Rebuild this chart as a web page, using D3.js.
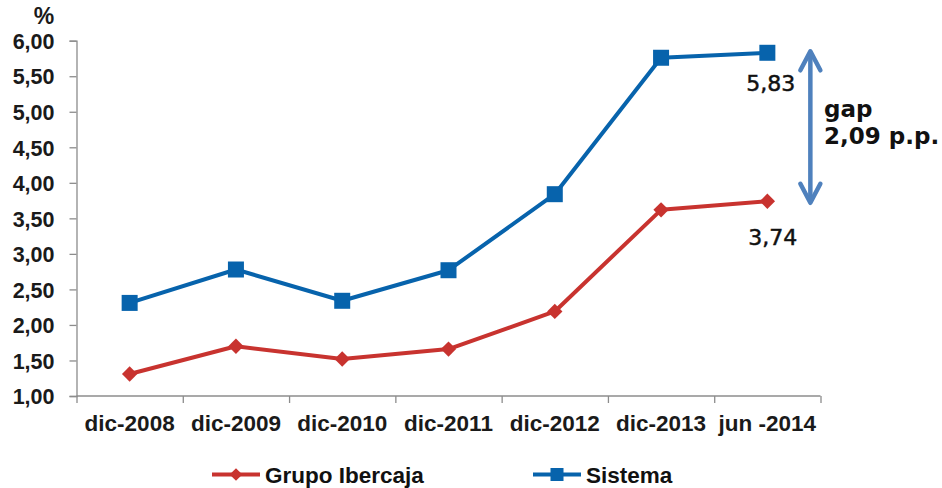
<!DOCTYPE html>
<html>
<head>
<meta charset="utf-8">
<script src="https://cdn.jsdelivr.net/npm/d3@7"></script>
<style>
  html, body { margin: 0; padding: 0; background: #fff; }
  svg { display: block; }
</style>
</head>
<body>
<svg id="chart" width="942" height="488"></svg>
<script>
const categories = ["dic-2008", "dic-2009", "dic-2010", "dic-2011", "dic-2012", "dic-2013", "jun -2014"];
const grupoIbercaja = [1.31, 1.70, 1.52, 1.66, 2.19, 3.62, 3.74];
const sistema = [2.31, 2.78, 2.34, 2.77, 3.84, 5.76, 5.83];
const yTicks = [1.00, 1.50, 2.00, 2.50, 3.00, 3.50, 4.00, 4.50, 5.00, 5.50, 6.00];
const seriesNames = ["Grupo Ibercaja", "Sistema"];

const svg = d3.select("#chart");
const colors = { red: "#C8332F", blue: "#0763AC", arrow: "#4F81BD", axis: "#8C8C8C" };
const axisFont = "'Liberation Sans', Arial, sans-serif";
const annFont = "'DejaVu Sans', Verdana, sans-serif";

const x = d3.scaleBand().domain(categories).range([76.5, 820.5]).padding(0);
const y = d3.scaleLinear().domain([1, 6]).range([396, 40.7]);
const cx = c => x(c) + x.bandwidth() / 2;
const fmt = v => d3.format(".2f")(v).replace(".", ",");

// Y axis
const yAxis = d3.axisLeft(y).tickValues(yTicks).tickSize(7).tickPadding(15).tickFormat(fmt);
const gy = svg.append("g").attr("transform", "translate(76.5,0)").call(yAxis);
gy.select(".domain").attr("stroke", colors.axis).attr("stroke-width", 1.3);
gy.selectAll(".tick line").attr("stroke", colors.axis).attr("stroke-width", 1.3);
gy.selectAll(".tick text").attr("font-family", axisFont).attr("font-weight", "bold")
  .attr("font-size", 21.5).attr("fill", "#1a1a1a").attr("dy", "0.36em");

// X axis (ticks at band edges)
const xLinear = d3.scaleLinear().domain([0, categories.length]).range([76.5, 820.5]);
const gx = svg.append("g").attr("transform", "translate(0,396)")
  .call(d3.axisBottom(xLinear).tickValues(d3.range(0, categories.length + 1)).tickSize(7).tickFormat(""));
gx.select(".domain").attr("stroke", colors.axis).attr("stroke-width", 1.3).attr("d", "M76.5,0H820.5");
gx.selectAll(".tick line").attr("stroke", colors.axis).attr("stroke-width", 1.3);

svg.append("g").selectAll("text").data(categories).join("text")
  .attr("x", d => cx(d)).attr("y", 431)
  .attr("text-anchor", "middle")
  .attr("font-family", axisFont).attr("font-weight", "bold").attr("font-size", 22.5)
  .attr("fill", "#1a1a1a")
  .text(d => d);

// % label
svg.append("text").attr("x", 44).attr("y", 23.5).attr("text-anchor", "middle")
  .attr("font-family", axisFont).attr("font-weight", "bold").attr("font-size", 23)
  .attr("fill", "#1a1a1a").text("%");

// Lines
const line = d3.line().x((d, i) => cx(categories[i])).y(d => y(d));
svg.append("path").datum(grupoIbercaja).attr("d", line)
  .attr("fill", "none").attr("stroke", colors.red).attr("stroke-width", 4).attr("stroke-linejoin", "round");
svg.append("path").datum(sistema).attr("d", line)
  .attr("fill", "none").attr("stroke", colors.blue).attr("stroke-width", 4).attr("stroke-linejoin", "round");

// Markers
svg.append("g").selectAll("path").data(grupoIbercaja).join("path")
  .attr("d", d3.symbol().type(d3.symbolSquare).size(118))
  .attr("transform", (d, i) => `translate(${cx(categories[i])},${y(d)}) rotate(45)`)
  .attr("fill", colors.red);
svg.append("g").selectAll("rect").data(sistema).join("rect")
  .attr("x", (d, i) => cx(categories[i]) - 8).attr("y", d => y(d) - 8)
  .attr("width", 16).attr("height", 16).attr("fill", colors.blue);

// Annotations for last values
const last = categories.length - 1;
const lastX = cx(categories[last]);
svg.append("text").attr("x", lastX - 21).attr("y", 90.5)
  .attr("font-family", annFont).attr("font-size", 22).attr("fill", "#111")
  .attr("stroke", "#111").attr("stroke-width", 0.5)
  .text(fmt(sistema[last]));
svg.append("text").attr("x", lastX - 19).attr("y", 245)
  .attr("font-family", annFont).attr("font-size", 22).attr("fill", "#111")
  .attr("stroke", "#111").attr("stroke-width", 0.5)
  .text(fmt(grupoIbercaja[last]));

// Gap arrow
const ax = lastX + 43;
const yTop = y(sistema[last]) - 1.5;
const yBot = y(grupoIbercaja[last]) + 1.5;
const ga = svg.append("g").attr("stroke", colors.arrow).attr("stroke-width", 4.5)
  .attr("fill", "none").attr("stroke-linecap", "round").attr("stroke-linejoin", "round");
ga.append("line").attr("x1", ax).attr("x2", ax).attr("y1", yTop + 2).attr("y2", yBot - 2);
ga.append("polyline").attr("points", `${ax - 10},${yTop + 19} ${ax},${yTop} ${ax + 10},${yTop + 19}`);
ga.append("polyline").attr("points", `${ax - 10},${yBot - 19} ${ax},${yBot} ${ax + 10},${yBot - 19}`);

const gapVal = sistema[last] - grupoIbercaja[last];
svg.append("text").attr("x", 824).attr("y", 116.5)
  .attr("font-family", annFont).attr("font-weight", "bold").attr("font-size", 23).attr("fill", "#111")
  .text("gap");
svg.append("text").attr("x", 824).attr("y", 144)
  .attr("font-family", annFont).attr("font-weight", "bold").attr("font-size", 23).attr("fill", "#111")
  .text(fmt(gapVal) + " p.p.");

// Legend
const legend = [
  { name: seriesNames[0], color: colors.red, x0: 212, type: "diamond" },
  { name: seriesNames[1], color: colors.blue, x0: 533, type: "square" }
];
const lg = svg.append("g");
legend.forEach(l => {
  lg.append("line").attr("x1", l.x0).attr("x2", l.x0 + 48).attr("y1", 474.5).attr("y2", 474.5)
    .attr("stroke", l.color).attr("stroke-width", 4);
  if (l.type === "diamond") {
    lg.append("path").attr("d", d3.symbol().type(d3.symbolSquare).size(80)())
      .attr("transform", `translate(${l.x0 + 24},474.5) rotate(45)`).attr("fill", l.color);
  } else {
    lg.append("rect").attr("x", l.x0 + 24 - 6.5).attr("y", 474.5 - 6.5).attr("width", 13).attr("height", 13).attr("fill", l.color);
  }
  lg.append("text").attr("x", l.x0 + 53).attr("y", 482.5)
    .attr("font-family", axisFont).attr("font-weight", "bold").attr("font-size", 22.5)
    .attr("fill", "#111").text(l.name);
});
</script>
</body>
</html>
